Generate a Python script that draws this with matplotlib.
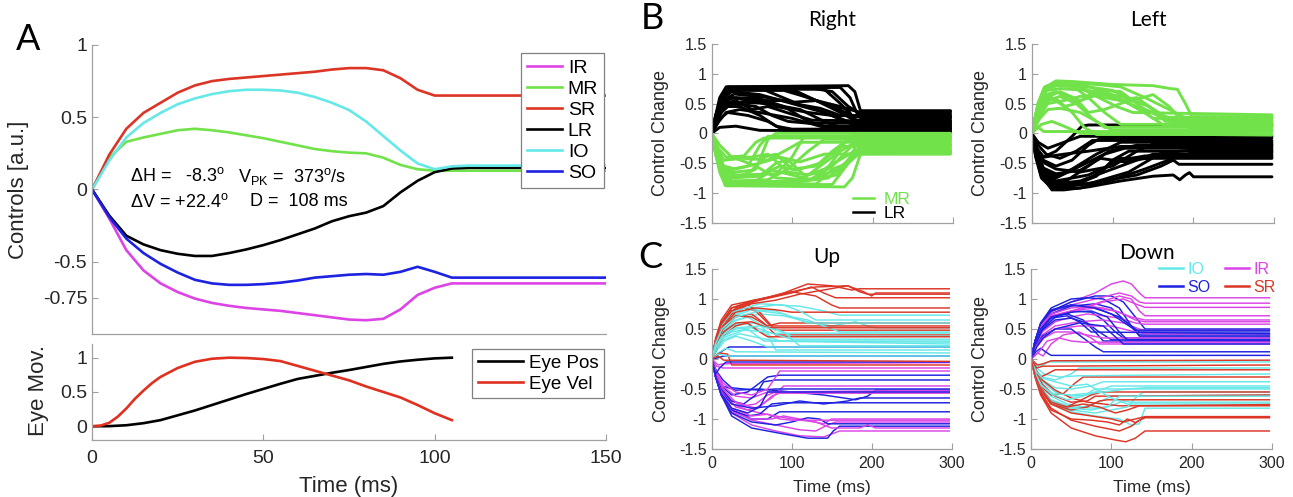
import matplotlib
matplotlib.use('Agg')
import matplotlib.pyplot as plt

plt.rcParams['font.family'] = ['Liberation Sans', 'DejaVu Sans']
plt.rcParams['axes.unicode_minus'] = False
plt.rcParams['mathtext.fontset'] = 'custom'
plt.rcParams['mathtext.rm'] = 'Liberation Sans'
plt.rcParams['mathtext.it'] = 'Liberation Sans:italic'
plt.rcParams['mathtext.bf'] = 'Liberation Sans:bold'

# ---------------- panel A : controls of one saccade ----------------
t_a = [0, 5, 10, 15, 20, 25, 30, 35, 40, 45, 50, 55, 60, 65, 70, 75, 80, 85, 90, 95, 100, 105, 110, 150]
ir_a = [0, -0.2, -0.42, -0.56, -0.65, -0.71, -0.755, -0.785, -0.805, -0.82, -0.83, -0.84, -0.855, -0.87, -0.885, -0.9, -0.905, -0.895, -0.83, -0.73, -0.68, -0.65, -0.65, -0.65]
mr_a = [0, 0.22, 0.33, 0.36, 0.385, 0.41, 0.42, 0.41, 0.395, 0.375, 0.355, 0.33, 0.305, 0.28, 0.265, 0.255, 0.25, 0.22, 0.17, 0.14, 0.13, 0.13, 0.13, 0.13]
sr_a = [0, 0.24, 0.42, 0.53, 0.6, 0.67, 0.72, 0.75, 0.765, 0.775, 0.785, 0.795, 0.805, 0.815, 0.83, 0.84, 0.84, 0.825, 0.77, 0.69, 0.65, 0.65, 0.65, 0.65]
lr_a = [0, -0.18, -0.32, -0.38, -0.42, -0.445, -0.46, -0.46, -0.44, -0.415, -0.385, -0.35, -0.31, -0.27, -0.22, -0.185, -0.16, -0.115, -0.02, 0.06, 0.12, 0.145, 0.15, 0.15]
io_a = [0, 0.2, 0.36, 0.46, 0.53, 0.59, 0.63, 0.66, 0.68, 0.69, 0.69, 0.685, 0.67, 0.64, 0.6, 0.55, 0.47, 0.37, 0.27, 0.18, 0.14, 0.16, 0.165, 0.165]
so_a = [0, -0.19, -0.34, -0.44, -0.515, -0.575, -0.625, -0.65, -0.66, -0.66, -0.655, -0.645, -0.63, -0.61, -0.6, -0.59, -0.585, -0.59, -0.57, -0.535, -0.57, -0.61, -0.61, -0.61]
muscles_a = ['IR', 'MR', 'SR', 'LR', 'IO', 'SO']

t_eye = [0, 5, 10, 15, 20, 25, 30, 35, 40, 45, 50, 55, 60, 65, 70, 75, 80, 85, 90, 95, 100, 105]
eye_pos = [0, 0.002, 0.015, 0.045, 0.09, 0.16, 0.23, 0.31, 0.39, 0.47, 0.545, 0.62, 0.69, 0.735, 0.78, 0.82, 0.865, 0.91, 0.945, 0.97, 0.99, 1.0]
t_vel = [0, 2.5, 5, 7.5, 10, 12.5, 15, 17.5, 20, 25, 30, 35, 40, 45, 50, 55, 60, 65, 70, 75, 80, 85, 90, 95, 100, 105]
eye_vel = [0, 0.01, 0.05, 0.14, 0.26, 0.4, 0.52, 0.63, 0.72, 0.85, 0.94, 0.985, 1.0, 0.995, 0.98, 0.95, 0.88, 0.81, 0.74, 0.67, 0.58, 0.5, 0.42, 0.31, 0.19, 0.09]

# ---------------- panel B : horizontal saccades ----------------
right_lr = [
    [(0, 0), (5, 0.3), (10, 0.6), (18, 0.78), (170, 0.8), (178, 0.7), (185, 0.38), (297, 0.38)],
    [(0, 0), (6, 0.3), (12, 0.6), (20, 0.76), (160, 0.77), (172, 0.6), (182, 0.3), (297, 0.3)],
    [(0, 0), (5, 0.25), (12, 0.55), (22, 0.74), (140, 0.74), (160, 0.5), (180, 0.22), (297, 0.22)],
    [(0, 0), (7, 0.3), (15, 0.6), (25, 0.7), (60, 0.65), (100, 0.5), (140, 0.35), (175, 0.15), (297, 0.15)],
    [(0, 0), (8, 0.25), (15, 0.5), (25, 0.6), (50, 0.55), (80, 0.45), (120, 0.35), (150, 0.3), (297, 0.27)],
    [(0, 0), (8, 0.3), (18, 0.5), (40, 0.52), (70, 0.5), (110, 0.4), (140, 0.2), (160, 0.1), (297, 0.1)],
    [(0, 0), (8, 0.3), (20, 0.45), (35, 0.45), (60, 0.3), (80, 0.12), (100, 0.07), (297, 0.07)],
    [(0, 0), (10, 0.25), (20, 0.35), (45, 0.3), (70, 0.2), (90, 0.05), (297, 0.05)],
    [(0, 0), (6, 0.3), (15, 0.6), (25, 0.72), (90, 0.72), (120, 0.6), (150, 0.45), (175, 0.3), (190, 0.25), (297, 0.25)],
    [(0, 0), (7, 0.3), (15, 0.55), (30, 0.6), (60, 0.58), (90, 0.45), (120, 0.2), (140, 0.12), (297, 0.12)],
    [(0, 0), (8, 0.25), (16, 0.45), (30, 0.5), (55, 0.45), (75, 0.3), (95, 0.2), (120, 0.17), (297, 0.17)],
    [(0, 0), (6, 0.3), (14, 0.6), (24, 0.76), (120, 0.77), (150, 0.7), (170, 0.45), (185, 0.33), (297, 0.33)],
    [(0, 0), (5, 0.3), (12, 0.6), (20, 0.75), (100, 0.74), (130, 0.55), (160, 0.35), (180, 0.2), (297, 0.2)],
    [(0, 0), (9, 0.2), (18, 0.35), (35, 0.4), (60, 0.35), (100, 0.25), (140, 0.1), (297, 0.08)],
    [(0, 0), (6, 0.3), (15, 0.55), (25, 0.6), (50, 0.55), (90, 0.55), (130, 0.4), (160, 0.25), (180, 0.14), (297, 0.14)],
    [(0, 0), (5, 0.3), (12, 0.6), (20, 0.78), (80, 0.78), (110, 0.65), (140, 0.5), (170, 0.4), (182, 0.02), (297, 0.02)],
    [(0, 0), (10, 0.1), (30, 0.12), (60, 0.05), (297, 0.03)],
    [(0, 0), (6, 0.3), (14, 0.55), (28, 0.66), (70, 0.6), (100, 0.52), (130, 0.55), (160, 0.45), (182, 0.36), (297, 0.36)],
    [(0, 0), (6, 0.32), (13, 0.62), (22, 0.77), (60, 0.76), (85, 0.62), (110, 0.48), (135, 0.42), (160, 0.3), (297, 0.29)],
    [(0, 0), (7, 0.28), (16, 0.5), (30, 0.55), (50, 0.4), (70, 0.45), (100, 0.32), (125, 0.22), (297, 0.19)],
]
right_mr = [
    [(0, 0), (5, -0.35), (10, -0.65), (17, -0.88), (165, -0.9), (175, -0.75), (185, -0.35), (297, -0.35)],
    [(0, 0), (6, -0.35), (12, -0.7), (20, -0.86), (150, -0.86), (170, -0.5), (183, -0.25), (297, -0.25)],
    [(0, 0), (7, -0.3), (14, -0.6), (25, -0.82), (120, -0.8), (150, -0.55), (175, -0.2), (297, -0.2)],
    [(0, 0), (8, -0.3), (15, -0.45), (30, -0.42), (55, -0.55), (80, -0.75), (120, -0.78), (160, -0.6), (180, -0.3), (297, -0.3)],
    [(0, 0), (6, -0.35), (15, -0.7), (30, -0.75), (55, -0.6), (70, -0.1), (80, 0.0), (297, 0.0)],
    [(0, 0), (7, -0.3), (14, -0.6), (30, -0.7), (80, -0.68), (100, -0.4), (115, -0.05), (297, -0.05)],
    [(0, 0), (8, -0.3), (15, -0.45), (40, -0.42), (70, -0.45), (90, -0.3), (110, -0.15), (297, -0.15)],
    [(0, 0), (6, -0.3), (13, -0.65), (25, -0.8), (70, -0.78), (95, -0.6), (120, -0.3), (140, -0.1), (297, -0.1)],
    [(0, 0), (5, -0.35), (12, -0.7), (22, -0.85), (100, -0.84), (120, -0.7), (140, -0.6), (165, -0.4), (180, -0.28), (297, -0.28)],
    [(0, 0), (7, -0.3), (14, -0.55), (25, -0.6), (45, -0.55), (60, -0.2), (70, -0.05), (297, -0.05)],
    [(0, 0), (6, -0.35), (13, -0.65), (25, -0.75), (60, -0.72), (80, -0.5), (95, -0.45), (115, -0.7), (140, -0.65), (160, -0.3), (175, -0.18), (297, -0.18)],
    [(0, 0), (6, -0.3), (14, -0.6), (30, -0.65), (50, -0.62), (65, -0.4), (80, -0.35), (100, -0.6), (130, -0.55), (150, -0.3), (170, -0.1), (297, -0.1)],
    [(0, 0), (7, -0.35), (15, -0.75), (25, -0.85), (130, -0.85), (150, -0.6), (170, -0.5), (185, -0.32), (297, -0.32)],
    [(0, 0), (10, -0.2), (25, -0.4), (50, -0.4), (70, -0.35), (95, -0.65), (120, -0.7), (150, -0.4), (175, -0.02), (297, -0.02)],
    [(0, 0), (6, -0.3), (14, -0.6), (28, -0.72), (60, -0.7), (85, -0.55), (105, -0.62), (135, -0.5), (160, -0.22), (297, -0.22)],
    [(0, 0), (5, -0.35), (12, -0.7), (20, -0.88), (90, -0.86), (115, -0.8), (145, -0.75), (170, -0.45), (183, -0.12), (297, -0.12)],
    [(0, 0), (8, -0.25), (18, -0.4), (40, -0.38), (55, -0.15), (65, -0.08), (297, -0.08)],
    [(0, 0), (6, -0.33), (13, -0.66), (24, -0.83), (55, -0.8), (75, -0.62), (100, -0.7), (125, -0.78), (155, -0.7), (178, -0.3), (297, -0.3)],
    [(0, 0), (7, -0.3), (15, -0.55), (30, -0.6), (60, -0.5), (85, -0.4), (110, -0.48), (140, -0.35), (297, -0.33)],
]
left_mr = [
    [(0, 0), (8, 0.5), (15, 0.75), (30, 0.88), (50, 0.87), (100, 0.82), (150, 0.8), (172, 0.75), (180, 0.74), (190, 0.5), (198, 0.28), (297, 0.28)],
    [(0, 0), (8, 0.45), (16, 0.72), (30, 0.85), (60, 0.82), (90, 0.7), (120, 0.5), (140, 0.35), (150, 0.25), (297, 0.25)],
    [(0, 0), (7, 0.4), (15, 0.7), (28, 0.86), (45, 0.85), (70, 0.6), (90, 0.35), (110, 0.15), (297, 0.15)],
    [(0, 0), (10, 0.3), (20, 0.55), (35, 0.62), (55, 0.5), (75, 0.25), (90, 0.1), (297, 0.1)],
    [(0, 0), (10, 0.25), (20, 0.4), (35, 0.42), (60, 0.35), (80, 0.2), (100, 0.05), (297, 0.05)],
    [(0, 0), (8, 0.5), (16, 0.75), (30, 0.8), (60, 0.78), (90, 0.6), (110, 0.55), (130, 0.6), (150, 0.4), (165, 0.2), (297, 0.2)],
    [(0, 0), (9, 0.45), (18, 0.72), (35, 0.75), (70, 0.72), (100, 0.62), (130, 0.45), (160, 0.3), (180, 0.22), (297, 0.22)],
    [(0, 0), (8, 0.35), (15, 0.55), (25, 0.6), (40, 0.45), (55, 0.5), (80, 0.72), (110, 0.7), (140, 0.4), (160, 0.27), (297, 0.27)],
    [(0, 0), (6, 0.12), (15, 0.03), (297, 0.03)],
    [(0, 0), (9, 0.4), (18, 0.65), (30, 0.7), (60, 0.5), (70, 0.35), (90, 0.4), (120, 0.55), (140, 0.5), (160, 0.3), (175, 0.18), (297, 0.18)],
    [(0, 0), (10, 0.3), (20, 0.5), (40, 0.55), (60, 0.62), (90, 0.65), (120, 0.5), (145, 0.3), (165, 0.12), (297, 0.12)],
    [(0, 0), (8, 0.5), (16, 0.78), (30, 0.86), (80, 0.82), (110, 0.78), (140, 0.6), (170, 0.4), (190, 0.26), (297, 0.26)],
    [(0, 0), (12, 0.15), (25, 0.2), (40, 0.12), (60, 0.0), (297, -0.03)],
    [(0, 0), (10, 0.35), (20, 0.55), (30, 0.58), (50, 0.35), (65, 0.1), (80, -0.02), (297, -0.02)],
    [(0, 0), (8, 0.45), (16, 0.7), (30, 0.8), (70, 0.78), (100, 0.72), (125, 0.55), (150, 0.65), (170, 0.45), (195, 0.07), (297, 0.07)],
    [(0, 0), (8, 0.48), (16, 0.76), (30, 0.84), (55, 0.8), (80, 0.62), (105, 0.45), (125, 0.35), (297, 0.31)],
    [(0, 0), (9, 0.35), (18, 0.6), (35, 0.7), (60, 0.55), (90, 0.68), (115, 0.6), (145, 0.45), (175, 0.2), (297, 0.16)],
]
left_lr = [
    [(0, 0), (5, -0.35), (12, -0.7), (25, -0.95), (40, -0.95), (70, -0.9), (110, -0.8), (150, -0.72), (175, -0.7), (183, -0.78), (190, -0.7), (195, -0.66), (200, -0.73), (297, -0.73)],
    [(0, 0), (5, -0.3), (12, -0.65), (25, -0.9), (50, -0.88), (90, -0.8), (130, -0.7), (160, -0.55), (175, -0.45), (182, -0.52), (297, -0.52)],
    [(0, 0), (6, -0.25), (14, -0.4), (30, -0.3), (50, -0.05), (62, 0.12), (70, 0.14), (297, 0.14)],
    [(0, 0), (6, -0.3), (15, -0.6), (30, -0.75), (60, -0.55), (90, -0.35), (115, -0.25), (297, -0.25)],
    [(0, 0), (6, -0.35), (14, -0.7), (30, -0.85), (60, -0.8), (100, -0.6), (130, -0.45), (150, -0.35), (297, -0.35)],
    [(0, 0), (8, -0.2), (18, -0.35), (35, -0.42), (55, -0.3), (75, -0.12), (297, -0.12)],
    [(0, 0), (6, -0.25), (14, -0.45), (30, -0.55), (50, -0.45), (70, -0.2), (85, -0.08), (297, -0.08)],
    [(0, 0), (5, -0.4), (12, -0.75), (25, -0.92), (50, -0.88), (80, -0.72), (100, -0.45), (120, -0.3), (297, -0.3)],
    [(0, 0), (6, -0.3), (15, -0.65), (30, -0.8), (70, -0.7), (110, -0.45), (140, -0.38), (297, -0.38)],
    [(0, 0), (7, -0.3), (16, -0.5), (30, -0.6), (60, -0.65), (100, -0.55), (130, -0.3), (150, -0.18), (297, -0.18)],
    [(0, 0), (5, -0.3), (13, -0.6), (28, -0.85), (60, -0.85), (90, -0.6), (105, -0.42), (297, -0.42)],
    [(0, 0), (6, -0.25), (15, -0.4), (40, -0.35), (70, -0.3), (110, -0.22), (297, -0.22)],
    [(0, 0), (5, -0.35), (13, -0.7), (28, -0.9), (70, -0.85), (120, -0.65), (160, -0.33), (200, -0.28), (297, -0.28)],
    [(0, 0), (8, -0.15), (20, -0.25), (40, -0.15), (60, -0.05), (297, -0.05)],
    [(0, 0), (5, -0.3), (13, -0.6), (30, -0.72), (50, -0.6), (80, -0.35), (110, -0.15), (297, -0.15)],
    [(0, 0), (5, -0.38), (12, -0.72), (26, -0.93), (60, -0.92), (100, -0.78), (140, -0.6), (175, -0.42), (200, -0.32), (297, -0.32)],
    [(0, 0), (5, -0.33), (12, -0.66), (25, -0.85), (45, -0.78), (70, -0.55), (95, -0.3), (130, -0.2), (297, -0.2)],
    [(0, 0), (6, -0.3), (14, -0.58), (30, -0.68), (60, -0.62), (85, -0.42), (115, -0.48), (150, -0.4), (297, -0.4)],
]

# ---------------- panel C : vertical saccades ----------------
up_sr = [
    [(0, 0), (5, 0.3), (12, 0.6), (25, 0.85), (50, 0.97), (80, 1.05), (110, 1.15), (130, 1.2), (170, 1.22), (190, 1.12), (200, 1.05), (205, 1.1), (297, 1.1)],
    [(0, 0), (5, 0.3), (12, 0.6), (25, 0.85), (50, 0.95), (90, 1.1), (120, 1.25), (150, 1.22), (175, 1.15), (185, 1.17), (297, 1.17)],
    [(0, 0), (6, 0.28), (14, 0.58), (30, 0.85), (60, 0.98), (100, 1.1), (125, 1.2), (140, 1.1), (155, 1.02), (297, 1.02)],
    [(0, 0), (5, 0.3), (12, 0.55), (25, 0.75), (40, 0.85), (55, 0.8), (70, 0.6), (80, 0.48), (297, 0.48)],
    [(0, 0), (5, 0.32), (12, 0.6), (25, 0.8), (45, 0.9), (60, 0.78), (75, 0.55), (297, 0.55)],
    [(0, 0), (6, 0.25), (14, 0.5), (30, 0.7), (50, 0.75), (65, 0.6), (80, 0.4), (297, 0.4)],
    [(0, 0), (5, 0.35), (12, 0.65), (25, 0.9), (60, 1.0), (100, 1.12), (130, 1.05), (150, 0.9), (160, 0.85), (297, 0.85)],
    [(0, 0), (6, 0.3), (14, 0.55), (30, 0.78), (55, 0.85), (80, 0.82), (100, 0.78), (297, 0.78)],
    [(0, 0), (8, 0.2), (16, 0.4), (30, 0.55), (45, 0.6), (60, 0.45), (70, 0.37), (297, 0.37)],
    [(0, 0), (10, 0.1), (20, 0.08), (25, -0.1), (297, -0.1)],
    [(0, 0), (6, 0.28), (14, 0.55), (30, 0.72), (50, 0.7), (70, 0.55), (85, 0.6), (297, 0.6)],
    [(0, 0), (5, 0.3), (12, 0.58), (25, 0.8), (50, 0.92), (80, 0.98), (110, 1.08), (140, 1.15), (170, 1.22), (185, 1.12), (195, 1.08), (297, 1.08)],
    [(0, 0), (7, 0.25), (15, 0.45), (30, 0.6), (50, 0.62), (70, 0.52), (297, 0.52)],
    [(0, 0), (8, 0.05), (15, -0.02), (297, -0.04)],
]
up_io = [
    [(0, 0), (5, 0.25), (12, 0.5), (25, 0.72), (50, 0.85), (80, 0.9), (110, 0.88), (140, 0.8), (160, 0.73), (297, 0.73)],
    [(0, 0), (6, 0.2), (14, 0.45), (30, 0.65), (60, 0.75), (90, 0.72), (120, 0.62), (150, 0.55), (180, 0.62), (195, 0.55), (205, 0.52), (297, 0.52)],
    [(0, 0), (5, 0.25), (12, 0.45), (25, 0.62), (45, 0.7), (60, 0.58), (75, 0.35), (85, 0.3), (297, 0.3)],
    [(0, 0), (6, 0.2), (14, 0.38), (30, 0.5), (50, 0.52), (70, 0.4), (80, 0.15), (297, 0.15)],
    [(0, 0), (5, 0.22), (12, 0.4), (25, 0.55), (40, 0.6), (60, 0.5), (75, 0.43), (297, 0.43)],
    [(0, 0), (7, 0.15), (16, 0.3), (30, 0.38), (50, 0.3), (70, 0.2), (297, 0.2)],
    [(0, 0), (5, 0.25), (12, 0.5), (25, 0.7), (50, 0.82), (80, 0.8), (100, 0.7), (120, 0.65), (150, 0.5), (160, 0.45), (297, 0.45)],
    [(0, 0), (8, 0.1), (18, 0.18), (30, 0.12), (297, 0.1)],
    [(0, 0), (6, 0.22), (14, 0.42), (30, 0.58), (55, 0.6), (80, 0.5), (100, 0.38), (297, 0.38)],
    [(0, 0), (5, 0.28), (12, 0.55), (25, 0.78), (60, 0.92), (90, 0.9), (110, 0.8), (130, 0.65), (297, 0.65)],
    [(0, 0), (7, 0.18), (15, 0.32), (35, 0.42), (60, 0.35), (80, 0.3), (297, 0.28)],
    [(0, 0), (6, 0.2), (14, 0.35), (40, 0.48), (70, 0.45), (100, 0.33), (297, 0.33)],
    [(0, 0), (9, 0.08), (20, 0.05), (297, 0.05)],
    [(0, 0), (5, 0.2), (12, 0.35), (25, 0.45), (45, 0.5), (65, 0.3), (297, 0.25)],
    [(0, 0), (5, 0.26), (13, 0.5), (30, 0.7), (60, 0.8), (90, 0.75), (120, 0.6), (297, 0.6)],
    [(0, 0), (6, 0.22), (14, 0.4), (30, 0.52), (60, 0.55), (90, 0.45), (110, 0.22), (297, 0.22)],
]
up_so = [
    [(0, 0), (5, -0.3), (12, -0.6), (25, -0.95), (50, -1.15), (90, -1.25), (120, -1.32), (145, -1.32), (152, -1.2), (160, -1.12), (297, -1.12)],
    [(0, 0), (5, -0.3), (12, -0.55), (25, -0.85), (50, -1.0), (70, -1.0), (85, -0.88), (297, -0.88)],
    [(0, 0), (5, -0.25), (12, -0.45), (25, -0.6), (45, -0.55), (60, -0.4), (70, -0.3), (85, -0.27), (297, -0.27)],
    [(0, 0), (6, -0.25), (14, -0.45), (30, -0.52), (60, -0.5), (100, -0.55), (140, -0.6), (180, -0.68), (195, -0.62), (205, -0.52), (297, -0.52)],
    [(0, 0), (5, -0.3), (12, -0.6), (25, -0.85), (45, -0.95), (60, -0.92), (75, -0.75), (90, -0.73), (297, -0.73)],
    [(0, 0), (8, 0.08), (15, 0.15), (22, 0.2), (297, 0.2)],
    [(0, 0), (8, 0.02), (15, 0.05), (297, 0.05)],
    [(0, 0), (5, -0.28), (12, -0.5), (25, -0.7), (40, -0.75), (55, -0.6), (65, -0.38), (80, -0.35), (297, -0.35)],
    [(0, 0), (5, -0.3), (12, -0.55), (25, -0.75), (50, -0.82), (80, -0.78), (110, -0.7), (140, -0.75), (170, -0.7), (185, -0.65), (297, -0.65)],
    [(0, 0), (5, -0.3), (12, -0.6), (25, -0.9), (50, -1.05), (80, -1.1), (100, -1.05), (120, -0.98), (135, -1.0), (145, -1.08), (297, -1.08)],
    [(0, 0), (6, -0.2), (14, -0.35), (25, -0.48), (40, -0.5), (60, -0.52), (80, -0.5), (297, -0.5)],
    [(0, 0), (5, -0.25), (10, -0.15), (18, -0.05), (297, -0.05)],
    [(0, 0), (5, -0.3), (12, -0.58), (25, -0.82), (45, -0.9), (60, -0.8), (70, -0.55), (297, -0.55)],
]
up_ir = [
    [(0, 0), (5, -0.3), (12, -0.6), (25, -0.9), (50, -1.1), (80, -1.2), (110, -1.28), (140, -1.3), (150, -1.25), (160, -1.2), (297, -1.2)],
    [(0, 0), (5, -0.3), (12, -0.58), (25, -0.85), (50, -1.02), (80, -1.1), (110, -1.18), (130, -1.2), (145, -1.1), (155, -1.05), (297, -1.05)],
    [(0, 0), (6, -0.28), (14, -0.55), (30, -0.8), (60, -0.9), (100, -1.0), (130, -1.05), (150, -1.15), (185, -1.15), (195, -1.1), (205, -1.15), (297, -1.15)],
    [(0, 0), (5, -0.28), (12, -0.5), (25, -0.7), (40, -0.78), (55, -0.75), (70, -0.6), (80, -0.55), (297, -0.55)],
    [(0, 0), (6, -0.25), (14, -0.45), (30, -0.62), (50, -0.65), (70, -0.55), (297, -0.52)],
    [(0, 0), (5, -0.3), (13, -0.55), (25, -0.75), (45, -0.85), (60, -0.8), (75, -0.62), (85, -0.57), (297, -0.57)],
    [(0, 0), (6, -0.12), (14, -0.15), (297, -0.15)],
    [(0, 0), (5, -0.3), (12, -0.6), (25, -0.88), (50, -1.0), (75, -1.0), (90, -0.95), (110, -1.0), (140, -1.08), (150, -1.0), (297, -1.0)],
    [(0, 0), (6, -0.25), (14, -0.5), (30, -0.72), (55, -0.82), (75, -0.65), (90, -0.45), (297, -0.45)],
    [(0, 0), (8, -0.1), (15, -0.08), (297, -0.06)],
    [(0, 0), (5, -0.3), (12, -0.55), (25, -0.82), (50, -0.95), (70, -0.92), (85, -1.0), (100, -1.02), (297, -1.02)],
    [(0, 0), (6, -0.22), (14, -0.4), (30, -0.55), (50, -0.6), (70, -0.5), (85, -0.2), (297, -0.2)],
]
down_ir = [
    [(0, 0), (5, 0.3), (12, 0.55), (25, 0.78), (50, 0.95), (80, 1.1), (100, 1.25), (115, 1.3), (125, 1.25), (135, 1.1), (142, 1.02), (297, 1.02)],
    [(0, 0), (5, 0.28), (12, 0.52), (25, 0.75), (50, 0.9), (80, 1.0), (110, 1.1), (125, 1.05), (135, 0.95), (142, 0.93), (297, 0.93)],
    [(0, 0), (6, 0.25), (14, 0.48), (30, 0.7), (60, 0.82), (90, 0.95), (115, 1.0), (130, 0.92), (142, 0.86), (297, 0.86)],
    [(0, 0), (6, 0.25), (14, 0.45), (30, 0.62), (50, 0.7), (70, 0.75), (90, 0.72), (110, 0.68), (130, 0.6), (142, 0.58), (297, 0.58)],
    [(0, 0), (8, 0.1), (15, 0.05), (25, 0.25), (40, 0.4), (60, 0.45), (75, 0.35), (85, 0.25), (297, 0.25)],
    [(0, 0), (6, 0.22), (14, 0.4), (30, 0.55), (60, 0.62), (90, 0.65), (115, 0.6), (135, 0.5), (142, 0.48), (297, 0.48)],
    [(0, 0), (5, 0.3), (12, 0.55), (25, 0.75), (50, 0.85), (70, 0.88), (90, 0.85), (110, 0.78), (130, 0.65), (142, 0.62), (297, 0.62)],
    [(0, 0), (7, 0.2), (16, 0.35), (30, 0.45), (50, 0.45), (70, 0.4), (90, 0.35), (297, 0.35)],
    [(0, 0), (5, 0.28), (12, 0.5), (25, 0.7), (50, 0.8), (80, 0.92), (110, 1.05), (125, 1.0), (135, 0.8), (142, 0.72), (297, 0.72)],
    [(0, 0), (6, 0.2), (14, 0.35), (30, 0.5), (60, 0.55), (100, 0.55), (130, 0.45), (142, 0.42), (297, 0.42)],
    [(0, 0), (10, 0.12), (20, 0.3), (35, 0.35), (50, 0.3), (65, 0.28), (297, 0.28)],
    [(0, 0), (5, 0.28), (12, 0.52), (25, 0.72), (50, 0.8), (80, 0.85), (105, 0.8), (125, 0.7), (142, 0.65), (297, 0.65)],
]
down_so = [
    [(0, 0), (5, 0.3), (12, 0.58), (25, 0.8), (50, 0.95), (80, 1.05), (100, 1.05), (115, 0.95), (130, 0.7), (142, 0.5), (297, 0.5)],
    [(0, 0), (5, 0.28), (12, 0.55), (25, 0.75), (50, 0.88), (80, 0.92), (100, 0.85), (120, 0.6), (135, 0.4), (297, 0.4)],
    [(0, 0), (6, 0.25), (14, 0.5), (30, 0.7), (55, 0.8), (75, 0.78), (90, 0.65), (105, 0.45), (115, 0.35), (297, 0.35)],
    [(0, 0), (5, 0.3), (12, 0.55), (25, 0.72), (45, 0.75), (65, 0.65), (80, 0.45), (90, 0.3), (297, 0.3)],
    [(0, 0), (6, 0.12), (12, 0.18), (18, 0.12), (25, 0.06), (297, 0.06)],
    [(0, 0), (5, 0.3), (12, 0.58), (25, 0.8), (50, 0.9), (70, 0.88), (90, 0.8), (110, 0.7), (125, 0.55), (135, 0.45), (297, 0.45)],
    [(0, 0), (6, 0.25), (14, 0.48), (30, 0.65), (50, 0.68), (70, 0.6), (85, 0.45), (100, 0.32), (297, 0.3)],
    [(0, 0), (5, 0.3), (12, 0.6), (25, 0.85), (50, 1.0), (70, 1.02), (90, 1.0), (110, 0.85), (125, 0.55), (135, 0.38), (297, 0.38)],
    [(0, 0), (6, 0.2), (14, 0.38), (30, 0.5), (50, 0.5), (65, 0.35), (80, 0.2), (90, 0.12), (297, 0.12)],
    [(0, 0), (5, 0.28), (12, 0.5), (25, 0.68), (45, 0.72), (60, 0.62), (75, 0.45), (297, 0.42)],
    [(0, 0), (7, 0.2), (15, 0.35), (30, 0.5), (60, 0.6), (90, 0.55), (115, 0.25), (297, 0.25)],
    [(0, 0), (5, 0.3), (12, 0.6), (25, 0.82), (50, 0.9), (80, 0.85), (100, 0.75), (130, 0.48), (297, 0.48)],
    [(0, 0), (5, 0.26), (12, 0.5), (25, 0.7), (50, 0.78), (75, 0.8), (95, 0.7), (110, 0.45), (120, 0.32), (297, 0.32)],
]
down_io = [
    [(0, 0), (5, -0.25), (12, -0.5), (25, -0.72), (50, -0.88), (80, -0.95), (110, -1.0), (125, -1.1), (135, -1.08), (142, -0.82), (297, -0.82)],
    [(0, 0), (6, -0.2), (14, -0.38), (30, -0.55), (50, -0.62), (70, -0.6), (90, -0.5), (100, -0.45), (297, -0.45)],
    [(0, 0), (5, -0.25), (12, -0.45), (25, -0.62), (45, -0.75), (65, -0.8), (85, -0.72), (100, -0.62), (297, -0.6)],
    [(0, 0), (7, -0.12), (15, -0.1), (22, -0.05), (297, -0.05)],
    [(0, 0), (6, -0.18), (14, -0.3), (30, -0.35), (50, -0.25), (60, -0.15), (297, -0.15)],
    [(0, 0), (5, -0.25), (12, -0.48), (25, -0.68), (50, -0.8), (80, -0.82), (100, -0.78), (115, -0.7), (125, -0.72), (297, -0.72)],
    [(0, 0), (6, -0.2), (14, -0.35), (30, -0.48), (50, -0.5), (75, -0.45), (90, -0.38), (297, -0.38)],
    [(0, 0), (5, -0.28), (12, -0.5), (25, -0.72), (50, -0.85), (80, -0.9), (100, -0.85), (120, -0.8), (130, -0.65), (140, -0.55), (297, -0.55)],
    [(0, 0), (7, -0.15), (16, -0.25), (35, -0.3), (60, -0.28), (297, -0.25)],
    [(0, 0), (5, -0.22), (12, -0.42), (25, -0.58), (45, -0.68), (65, -0.62), (80, -0.5), (297, -0.5)],
    [(0, 0), (6, -0.2), (14, -0.32), (30, -0.38), (50, -0.45), (70, -0.42), (100, -0.65), (120, -0.75), (297, -0.75)],
    [(0, 0), (5, -0.25), (13, -0.45), (28, -0.58), (50, -0.6), (90, -0.55), (120, -0.5), (142, -0.48), (297, -0.48)],
    [(0, 0), (5, -0.27), (12, -0.5), (25, -0.7), (50, -0.82), (75, -0.85), (95, -0.8), (110, -0.62), (297, -0.62)],
]
down_sr = [
    [(0, 0), (5, -0.3), (12, -0.6), (25, -0.9), (50, -1.15), (80, -1.28), (105, -1.35), (118, -1.38), (130, -1.32), (142, -1.2), (297, -1.2)],
    [(0, 0), (5, -0.28), (12, -0.55), (25, -0.82), (50, -1.02), (80, -1.12), (110, -1.2), (125, -1.12), (135, -1.02), (142, -0.98), (297, -0.98)],
    [(0, 0), (5, -0.25), (12, -0.5), (25, -0.75), (50, -0.9), (75, -0.95), (100, -1.0), (115, -1.05), (130, -1.0), (142, -0.96), (297, -0.96)],
    [(0, 0), (6, -0.22), (14, -0.42), (30, -0.62), (50, -0.72), (70, -0.7), (80, -0.62), (297, -0.6)],
    [(0, 0), (8, -0.1), (15, -0.08), (25, -0.03), (297, -0.02)],
    [(0, 0), (5, -0.25), (12, -0.45), (25, -0.6), (40, -0.58), (55, -0.4), (65, -0.3), (297, -0.3)],
    [(0, 0), (6, -0.2), (14, -0.35), (30, -0.52), (50, -0.65), (70, -0.72), (90, -0.75), (110, -0.78), (297, -0.78)],
    [(0, 0), (5, -0.28), (12, -0.52), (25, -0.75), (50, -0.85), (70, -0.8), (85, -0.7), (95, -0.68), (297, -0.68)],
    [(0, 0), (6, -0.18), (12, -0.3), (20, -0.25), (30, -0.18), (297, -0.18)],
    [(0, 0), (5, -0.25), (12, -0.48), (25, -0.7), (45, -0.8), (60, -0.7), (75, -0.6), (88, -0.55), (297, -0.55)],
    [(0, 0), (7, -0.15), (15, -0.12), (297, -0.1)],
    [(0, 0), (5, -0.3), (12, -0.58), (25, -0.85), (50, -1.0), (75, -1.02), (95, -1.05), (110, -1.1), (120, -1.0), (130, -1.06), (142, -0.97), (297, -0.97)],
    [(0, 0), (5, -0.27), (12, -0.5), (25, -0.72), (45, -0.8), (65, -0.75), (85, -0.8), (105, -0.9), (120, -0.85), (135, -0.78), (297, -0.76)],
]

bc_yticks = [-1.5, -1, -0.5, 0, 0.5, 1, 1.5]
bc_ylabels = ['-1.5', '-1', '-0.5', '0', '0.5', '1', '1.5']
bc_xticks = [0, 100, 200, 300]
bc_xlabels = ['0', '100', '200', '300']
a_yticks = [-0.75, -0.5, 0, 0.5, 1]
a_ylabels = ['-0.75', '-0.5', '0', '0.5', '1']

C_IR = '#dc44e6'
C_MR = '#72e24a'
C_SR = '#dc3526'
C_LR = '#000000'
C_IO = '#66e8e8'
C_SO = '#1c22e0'
GRAY = '#a0a0a0'
TXT = '#262626'


def style(ax, fs, xpad):
    for s in ['top', 'right']:
        ax.spines[s].set_visible(False)
    for s in ['left', 'bottom']:
        ax.spines[s].set_color(GRAY)
        ax.spines[s].set_linewidth(0.9)
    ax.tick_params(direction='in', length=4, width=0.8, color=GRAY, labelcolor=TXT, labelsize=fs)
    ax.tick_params(axis='x', pad=xpad)


def draw(ax, traces, color, lw):
    for tr in traces:
        ax.plot([p[0] for p in tr], [p[1] for p in tr], color=color, lw=lw,
                solid_joinstyle='round', solid_capstyle='round')


def draw_mixed(ax, groups, lw):
    n = max(len(g[0]) for g in groups)
    for i in range(n):
        for traces, color in groups:
            if i < len(traces):
                tr = traces[i]
                ax.plot([p[0] for p in tr], [p[1] for p in tr], color=color, lw=lw,
                        solid_joinstyle='round')


fig = plt.figure(figsize=(12.93, 4.97), dpi=100)

# ---- A top
ax1 = fig.add_axes([0.0712, 0.328, 0.3975, 0.5815])
cols_a = [C_IR, C_MR, C_SR, C_LR, C_IO, C_SO]
for name, ys, c in zip(muscles_a, [ir_a, mr_a, sr_a, lr_a, io_a, so_a], cols_a):
    ax1.plot(t_a, ys, color=c, lw=1.9, label=name)
ax1.set_xlim(0, 150)
ax1.set_ylim(-1, 1)
ax1.set_yticks(a_yticks)
ax1.set_yticklabels(a_ylabels)
ax1.set_xticks([])
style(ax1, 14, 6)
ax1.set_ylabel('Controls [a.u.]', fontsize=16, color=TXT)
ax1.yaxis.set_label_coords(-0.122, 0.5)
leg = ax1.legend(loc='upper right', bbox_to_anchor=(0.996, 0.972), fontsize=14, frameon=True,
                 fancybox=False, edgecolor='#808080', framealpha=1, borderpad=0.3,
                 labelspacing=0.18, handlelength=1.8, handletextpad=0.3, borderaxespad=0)
leg.get_frame().set_linewidth(0.9)
ax1.text(11, 0.09, 'ΔH =   -8.3$^{\\rm o}$', fontsize=13, va='center', color='black')
ax1.text(11, -0.085, 'ΔV = +22.4$^{\\rm o}$', fontsize=13, va='center', color='black')
ax1.text(42.5, 0.09, 'V$_{\\rm PK}$ =  373$^{\\rm o}$/s', fontsize=13, va='center', color='black')
ax1.text(46, -0.085, 'D =  108 ms', fontsize=13, va='center', color='black')

# ---- A bottom
ax2 = fig.add_axes([0.0712, 0.1147, 0.3975, 0.1932])
ax2.plot(t_eye, eye_pos, color='black', lw=1.9, label='Eye Pos')
ax2.plot(t_vel, eye_vel, color='#e03020', lw=1.9, label='Eye Vel')
ax2.set_xlim(0, 150)
ax2.set_ylim(-0.2, 1.2)
ax2.set_yticks([0, 0.5, 1])
ax2.set_yticklabels(['0', '0.5', '1'])
ax2.set_xticks([0, 50, 100, 150])
style(ax2, 14, 7)
ax2.set_ylabel('Eye Mov.', fontsize=16, color=TXT)
ax2.yaxis.set_label_coords(-0.083, 0.52)
ax2.set_xlabel('Time (ms)', fontsize=16, color=TXT)
ax2.xaxis.set_label_coords(0.5, -0.37)
leg2 = ax2.legend(loc='upper right', bbox_to_anchor=(0.996, 0.948), fontsize=13.5, frameon=True,
                  fancybox=False, edgecolor='#808080', framealpha=1, borderpad=0.3,
                  labelspacing=0.2, handlelength=2.4, handletextpad=0.3, borderaxespad=0)
leg2.get_frame().set_linewidth(0.9)

# ---- B and C
pos = {
    'right': [0.5504, 0.552, 0.1866, 0.3595],
    'left': [0.7979, 0.552, 0.1877, 0.3595],
    'up': [0.5504, 0.0966, 0.1856, 0.3622],
    'down': [0.7974, 0.0966, 0.1862, 0.3622],
}
axes = {}
for key in pos:
    ax = fig.add_axes(pos[key])
    ax.set_xlim(0, 300)
    ax.set_ylim(-1.5, 1.5)
    ax.set_yticks(bc_yticks)
    ax.set_yticklabels(bc_ylabels)
    ax.set_xticks(bc_xticks)
    style(ax, 11.5, 5)
    ax.set_ylabel('Control Change', fontsize=13, color=TXT)
    ax.yaxis.set_label_coords(-0.175, 0.5)
    axes[key] = ax

axr = axes['right']
draw(axr, right_lr, C_LR, 2.1)
draw(axr, right_mr, C_MR, 2.1)
axr.set_xticklabels([])
axr.text(0.5, 1.134, 'Right', transform=axr.transAxes, ha='center', va='center',
         fontsize=15, family=['Lato', 'DejaVu Sans'])
h_mr, = axr.plot([], [], color=C_MR, lw=1.8, label='MR')
h_lr, = axr.plot([], [], color=C_LR, lw=1.8, label='LR')
lg = axr.legend(handles=[h_mr, h_lr], loc='lower left', bbox_to_anchor=(0.585, 0.01), frameon=False,
                fontsize=12.5, handlelength=1.2, handletextpad=0.6, labelspacing=-0.05,
                borderpad=0, borderaxespad=0, labelcolor='linecolor')

axl = axes['left']
draw(axl, left_lr, C_LR, 2.1)
draw(axl, left_mr, C_MR, 2.1)
axl.set_xticklabels([])
axl.text(0.48, 1.134, 'Left', transform=axl.transAxes, ha='center', va='center',
         fontsize=15, family=['Lato', 'DejaVu Sans'])

axu = axes['up']
draw_mixed(axu, [(up_ir, C_IR), (up_so, C_SO), (up_io, C_IO), (up_sr, C_SR)], 1.05)
axu.set_xticklabels(bc_xlabels)
axu.set_xlabel('Time (ms)', fontsize=12.5, color=TXT)
axu.xaxis.set_label_coords(0.5, -0.175)
axu.text(0.48, 1.067, 'Up', transform=axu.transAxes, ha='center', va='center',
         fontsize=15, family=['Lato', 'DejaVu Sans'])

axd = axes['down']
draw_mixed(axd, [(down_io, C_IO), (down_sr, C_SR), (down_ir, C_IR), (down_so, C_SO)], 1.05)
axd.set_xticklabels(bc_xlabels)
axd.set_xlabel('Time (ms)', fontsize=12.5, color=TXT)
axd.xaxis.set_label_coords(0.5, -0.175)
axd.text(0.48, 1.089, 'Down', transform=axd.transAxes, ha='center', va='center',
         fontsize=15, family=['Lato', 'DejaVu Sans'])
hs = []
for name, c in [('IO', C_IO), ('SO', C_SO), ('IR', C_IR), ('SR', C_SR)]:
    h, = axd.plot([], [], color=c, lw=1.8, label=name)
    hs.append(h)
axd.legend(handles=hs, ncol=2, loc='upper left', bbox_to_anchor=(0.53, 1.04), frameon=False,
           fontsize=11.5, handlelength=1.5, handletextpad=0.3, labelspacing=0.2, columnspacing=0.9,
           borderpad=0, borderaxespad=0, labelcolor='linecolor')

# panel letters
fig.text(0.0217, 0.92, 'A', fontsize=26, ha='center', va='center', family=['Lato', 'DejaVu Sans'])
fig.text(0.5043, 0.963, 'B', fontsize=26, ha='center', va='center', family=['Lato', 'DejaVu Sans'])
fig.text(0.5027, 0.481, 'C', fontsize=26, ha='center', va='center', family=['Lato', 'DejaVu Sans'])

fig.savefig('out.png', dpi=100)
